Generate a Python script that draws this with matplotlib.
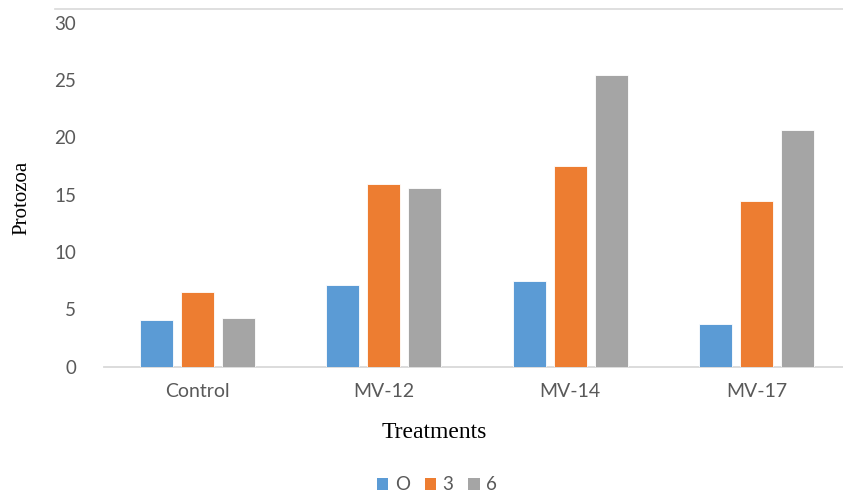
import numpy as np
import matplotlib
matplotlib.use("Agg")
import matplotlib.pyplot as plt
from matplotlib.patches import Patch
from matplotlib.lines import Line2D

categories = ["Control", "MV-12", "MV-14", "MV-17"]
series_names = ["O", "3", "6"]
vals_o = [4.1, 7.1, 7.5, 3.7]
vals_3 = [6.5, 15.9, 17.5, 14.4]
vals_6 = [4.2, 15.6, 25.4, 20.6]
y_ticks = [0, 5, 10, 15, 20, 25, 30]

colors = ["#5B9BD5", "#ED7D31", "#A5A5A5"]
label_grey = "#595959"

fig = plt.figure(figsize=(8.43, 4.93), dpi=100, facecolor="white")
ax = fig.add_axes([104 / 843, 1 - 366.5 / 493, 1 - 104 / 843, (366.5 - 22.7) / 493])

x = np.arange(len(categories))
w, step = 0.177, 0.22
for i, (vals, c) in enumerate(zip([vals_o, vals_3, vals_6], colors)):
    ax.bar(x + (i - 1) * step, vals, w, color=c, edgecolor="white",
           linewidth=0.6, label=series_names[i], zorder=3)

ax.set_xlim(-0.5, 3.5 - 7 / 186.6)
ax.set_ylim(0, 30)
ax.set_yticks(y_ticks)
ax.set_xticks(x)
ax.set_xticklabels(categories)
for sp in ["top", "right", "left"]:
    ax.spines[sp].set_visible(False)
ax.spines["bottom"].set_color("#d9d9d9")
ax.spines["bottom"].set_linewidth(1.3)
ax.tick_params(axis="y", length=0, labelsize=13.5, labelcolor=label_grey, pad=20)
ax.tick_params(axis="x", length=0, labelsize=14, labelcolor=label_grey, pad=12)
for t in ax.get_xticklabels() + ax.get_yticklabels():
    t.set_fontfamily("Lato")

ax.set_ylabel("Protozoa", fontfamily="Liberation Serif", fontsize=15,
              color="black", labelpad=0)
ax.yaxis.set_label_coords(-73 / 739, 0.49)
fig.text(434 / 843, 1 - 432 / 493, "Treatments", fontfamily="Liberation Serif",
         fontsize=17, color="black", ha="center", va="center")

# thin frame line at the top
fig.add_artist(Line2D([55 / 843, 1], [1 - 9 / 493, 1 - 9 / 493],
                      color="#d9d9d9", linewidth=1.2))

handles = [Patch(facecolor=c, edgecolor="none") for c in colors]
fig.legend(handles, series_names, loc="center", ncol=3,
           bbox_to_anchor=(437 / 843, 1 - 485 / 493), frameon=False,
           handlelength=0.6, handleheight=0.6, handletextpad=0.35,
           columnspacing=0.8, prop={"family": "Lato", "size": 13.5},
           labelcolor=label_grey)

fig.savefig("out.png", dpi=100, facecolor="white")
